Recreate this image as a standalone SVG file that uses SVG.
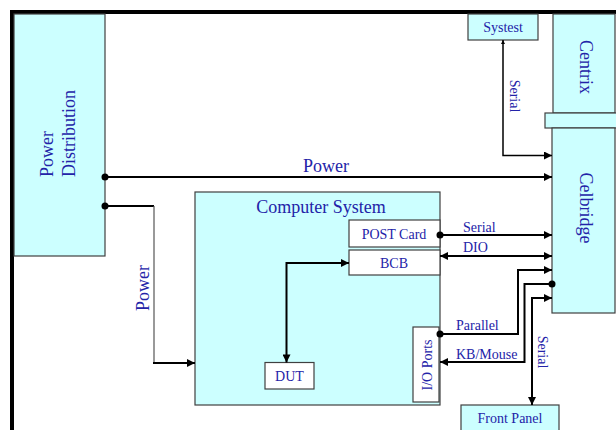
<svg xmlns="http://www.w3.org/2000/svg" width="616" height="430" viewBox="0 0 616 430">
<style>
.box{fill:#ccffff;stroke:#404040;stroke-width:1.2}
.wbox{fill:#ffffff;stroke:#404040;stroke-width:1.2}
text{font-family:"Liberation Serif","Times New Roman",serif;fill:#2323a8}
.big{font-size:18px}
.sm{font-size:14px}
.ln{fill:none;stroke:#000;stroke-width:2}
.thin{fill:none;stroke:#000;stroke-width:1.5}
.dot{fill:#000}
</style>
<defs>
<marker id="arr" viewBox="0 0 10 10" refX="10" refY="5" markerWidth="9" markerHeight="8" markerUnits="userSpaceOnUse" orient="auto-start-reverse">
<path d="M0,0 L10,5 L0,10 z" fill="#000"/>
</marker>
<marker id="arrs" viewBox="0 0 10 10" refX="10" refY="5" markerWidth="4" markerHeight="7" markerUnits="userSpaceOnUse" orient="auto-start-reverse">
<path d="M0,0 L10,5 L0,10 z" fill="#000"/>
</marker>
</defs>
<rect width="616" height="430" fill="#fff"/>
<g id="frame">
<path d="M10,12 H616 M12,12 V430" fill="none" stroke="#000" stroke-width="4"/>
</g>
<g id="power-distribution">
<rect class="box" x="14" y="14" width="91" height="242"/>
<text class="big" transform="translate(53,177) rotate(-90)">Power</text>
<text class="big" transform="translate(75,177) rotate(-90)">Distribution</text>
</g>
<g id="computer-system">
<rect class="box" x="195" y="192" width="245" height="213"/>
<text class="big" x="321" y="213" text-anchor="middle">Computer System</text>
</g>
<g id="post-card">
<rect class="wbox" x="349" y="220" width="91" height="27"/>
<text class="sm" x="394" y="239" text-anchor="middle">POST Card</text>
</g>
<g id="bcb">
<rect class="wbox" x="349" y="250" width="91" height="25"/>
<text class="sm" x="394" y="267.5" text-anchor="middle">BCB</text>
</g>
<g id="io-ports">
<rect class="wbox" x="413" y="327" width="26" height="75"/>
<text class="sm" transform="translate(431.5,365) rotate(-90)" text-anchor="middle">I/O Ports</text>
</g>
<g id="dut">
<rect class="wbox" x="265" y="362.5" width="49" height="26.5"/>
<text class="sm" x="289.5" y="381" text-anchor="middle">DUT</text>
</g>
<g id="systest">
<rect class="box" x="468" y="14" width="70" height="26"/>
<text class="sm" x="503" y="32" text-anchor="middle">Systest</text>
</g>
<g id="centrix">
<rect class="box" x="553" y="14" width="62" height="99"/>
<rect class="box" x="545" y="113" width="75" height="15"/>
<text class="big" transform="translate(580,67) rotate(90)" text-anchor="middle">Centrix</text>
</g>
<g id="celbridge">
<rect class="box" x="552" y="128" width="63" height="185"/>
<text class="big" transform="translate(580,208) rotate(90)" text-anchor="middle">Celbridge</text>
</g>
<g id="front-panel">
<rect class="box" x="461" y="405" width="98" height="30"/>
<text class="sm" x="510" y="423" text-anchor="middle">Front Panel</text>
</g>
<g id="connectors">
<path class="ln" d="M105,177 H552" marker-end="url(#arr)"/>
<circle class="dot" cx="105" cy="177" r="3.5"/>
<text class="big" x="326" y="172" text-anchor="middle">Power</text>
<path class="ln" d="M105,206 H154"/>
<path fill="none" stroke="#555" stroke-width="1.2" d="M154,206 V363"/>
<path class="ln" d="M153,363 H195" marker-end="url(#arr)"/>
<circle class="dot" cx="105" cy="206" r="3.5"/>
<text class="big" transform="translate(149,288) rotate(-90)" text-anchor="middle">Power</text>
<path class="thin" d="M503,40 V155.5 H552" marker-start="url(#arrs)" marker-end="url(#arr)"/>
<text class="sm" transform="translate(510,96) rotate(90)" text-anchor="middle">Serial</text>
<path class="ln" d="M440,235 H552" marker-end="url(#arr)"/>
<circle class="dot" cx="440" cy="235" r="3.5"/>
<text class="sm" x="463" y="232">Serial</text>
<path class="ln" d="M440,256 H552" marker-start="url(#arr)" marker-end="url(#arr)"/>
<text class="sm" x="463" y="252">DIO</text>
<path class="ln" d="M440,334 H518 V270 H552" marker-end="url(#arr)"/>
<circle class="dot" cx="440" cy="334" r="3.5"/>
<text class="sm" x="456" y="330">Parallel</text>
<path class="ln" d="M552,284 H524.5 V362 H440" marker-end="url(#arr)"/>
<circle class="dot" cx="552" cy="284" r="3.5"/>
<text class="sm" x="456" y="359">KB/Mouse</text>
<path class="ln" d="M552,298 H532 V405" marker-start="url(#arr)" marker-end="url(#arr)"/>
<text class="sm" transform="translate(538,352) rotate(90)" text-anchor="middle">Serial</text>
<path class="ln" d="M349,263 H286.5 V362.5" marker-start="url(#arr)" marker-end="url(#arr)"/>
</g>
</svg>
